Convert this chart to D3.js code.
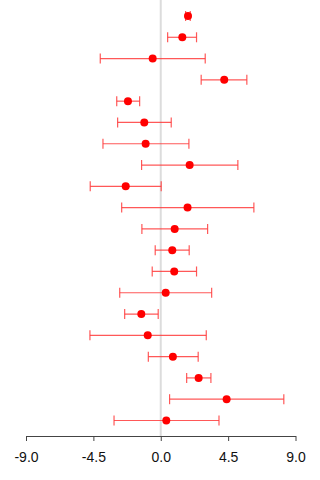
<!DOCTYPE html>
<html>
<head>
<meta charset="utf-8">
<script src="https://cdn.jsdelivr.net/npm/d3@7"></script>
<style>
  body { margin: 0; background: #fff; }
  svg { display: block; }
</style>
</head>
<body>
<svg id="chart"></svg>
<script>
let width = 320;
let height = 480;

// one entry per study row, top to bottom
let estimates = [1.82, 1.44, -0.54, 4.24, -2.19, -1.10, -1.01, 1.93, -2.34, 1.79,
                 0.93, 0.77, 0.90, 0.33, -1.30, -0.87, 0.81, 2.53, 4.40, 0.37];
let lower = [1.66, 0.46, -4.04, 2.70, -2.94, -2.88, -3.86, -1.28, -4.71, -2.61,
             -1.26, -0.37, -0.57, -2.74, -2.41, -4.73, -0.83, 1.73, 0.59, -3.12];
let upper = [1.97, 2.39, 2.97, 5.75, -1.41, 0.70, 1.88, 5.15, 0.03, 6.22,
             3.13, 1.90, 2.39, 3.40, -0.17, 3.04, 2.50, 3.35, 8.22, 3.89];
let tickValues = [-9, -4.5, 0, 4.5, 9];

let rows = estimates.map((d, i) => ({ est: d, lo: lower[i], hi: upper[i], idx: i }));

let svg = d3.select("#chart")
    .attr("width", width)
    .attr("height", height);

let x = d3.scaleLinear().domain([-9, 9]).range([26, 295.5]);
let y = d3.scaleLinear().domain([0, rows.length - 1]).range([16, 420.5]);
let axisY = 436;

// zero reference line
svg.append("line")
    .attr("x1", x(0)).attr("x2", x(0))
    .attr("y1", 0).attr("y2", axisY)
    .attr("stroke", "#dcdcdc")
    .attr("stroke-width", 2);

let g = svg.append("g");
let rowG = g.selectAll("g.row")
    .data(rows)
    .join("g")
    .attr("class", "row");

rowG.append("line")
    .attr("x1", d => x(d.lo)).attr("x2", d => x(d.hi))
    .attr("y1", d => y(d.idx)).attr("y2", d => y(d.idx))
    .attr("stroke", "#ff3b3b")
    .attr("stroke-opacity", 0.85)
    .attr("stroke-width", 1.2);

["lo", "hi"].forEach(k => {
    rowG.append("line")
        .attr("x1", d => x(d[k])).attr("x2", d => x(d[k]))
        .attr("y1", d => y(d.idx) - 5).attr("y2", d => y(d.idx) + 5)
        .attr("stroke", "#ff3b3b")
        .attr("stroke-opacity", 0.85)
        .attr("stroke-width", 1.2);
});

rowG.append("circle")
    .attr("cx", d => x(d.est))
    .attr("cy", d => y(d.idx))
    .attr("r", 4)
    .attr("fill", "#ff0000");

// plain hyphen for negatives, like the original
let fmt = d => d.toFixed(1);

let axis = d3.axisBottom(x)
    .tickValues(tickValues)
    .tickFormat(fmt)
    .tickSize(5)
    .tickSizeOuter(0);

let ax = svg.append("g")
    .attr("transform", `translate(0,${axisY})`)
    .call(axis);
ax.select(".domain").attr("stroke", "#444");
ax.selectAll(".tick line").attr("stroke", "#444");
ax.selectAll(".tick text")
    .attr("fill", "#111")
    .attr("dy", "1.25em")
    .style("font-family", "Liberation Sans, Arial, sans-serif")
    .style("font-size", "14px");
</script>
</body>
</html>
